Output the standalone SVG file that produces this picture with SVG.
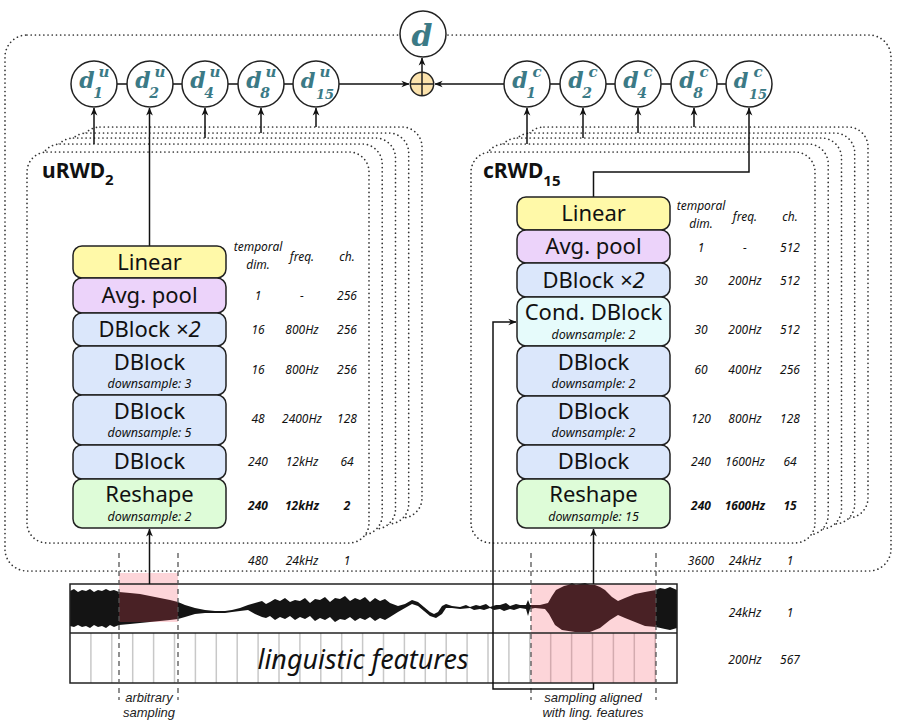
<svg xmlns="http://www.w3.org/2000/svg" width="898" height="728" viewBox="0 0 898 728">
<defs>
<style>
.frame{fill:#fff;stroke:#333;stroke-width:1.7;stroke-dasharray:0.01 4.2;stroke-linecap:round}
.box{stroke:#222;stroke-width:1.5}
.lin{fill:#fff9a8}.avg{fill:#ecd3fa}.db{fill:#dbe7fb}.cdb{fill:#e6fbfb}.rs{fill:#defcd8}
.lbl{font-family:"Noto Sans",sans-serif;font-size:22px;fill:#111;text-anchor:middle}
.sub{font-family:"Noto Sans",sans-serif;font-size:12.5px;font-style:italic;fill:#111;text-anchor:middle}
.tb{font-family:"Noto Sans",sans-serif;font-size:12px;font-style:italic;fill:#111;text-anchor:middle}
.tbb{font-family:"Noto Sans",sans-serif;font-size:12px;font-style:italic;font-weight:bold;fill:#111;text-anchor:middle}
.circ{fill:#fff;stroke:#222;stroke-width:1.5}
.dl{font-family:"DejaVu Serif",serif;font-weight:bold;font-style:italic;fill:#3b7a86;text-anchor:middle}
.conn{fill:none;stroke:#111;stroke-width:1.5}
.dash{fill:none;stroke:#555;stroke-width:1.3;stroke-dasharray:5 4}
.cap{font-family:"Liberation Sans",sans-serif;font-size:13px;font-style:italic;fill:#222;text-anchor:middle}
.ttl{font-family:"Noto Sans",sans-serif;font-weight:bold;fill:#111}
</style>
<marker id="ah" viewBox="0 0 10 10" refX="9.5" refY="5" markerWidth="8" markerHeight="8" orient="auto" markerUnits="userSpaceOnUse"><path d="M0,0.8 L10,5 L0,9.2 L3,5 z" fill="#111"/></marker>
<rect id="lf" x="27" y="152" width="342" height="391" rx="20"/>
<rect id="rf" x="471" y="152" width="344" height="391" rx="20"/>
</defs>
<rect width="898" height="728" fill="#fff"/>

<g id="outer-frame">
<rect x="5" y="35" width="886" height="536" rx="22" class="frame" style="fill:none"/>
</g>

<g id="uRWD-stack">
<use href="#lf" class="frame" transform="translate(53,-25)"/>
<use href="#lf" class="frame" transform="translate(39.7,-19)"/>
<use href="#lf" class="frame" transform="translate(26.5,-14)"/>
<use href="#lf" class="frame" transform="translate(13.2,-8)"/>
<use href="#lf" class="frame"/>
<text class="ttl" x="42" y="178" font-size="21">uRWD<tspan font-size="15" dy="7">2</tspan></text>
</g>
<g id="cRWD-stack">
<use href="#rf" class="frame" transform="translate(53,-25)"/>
<use href="#rf" class="frame" transform="translate(39.7,-19)"/>
<use href="#rf" class="frame" transform="translate(26.5,-14)"/>
<use href="#rf" class="frame" transform="translate(13.2,-8)"/>
<use href="#rf" class="frame"/>
<text class="ttl" x="483" y="178" font-size="21">cRWD<tspan font-size="15" dy="8">15</tspan></text>
</g>

<g id="signal">
<rect x="70" y="584" width="607" height="99" fill="#fff"/>
<path fill="#141414" d="M70,591 L74,589 L78,592 L82,590 L86,591 L90,589 L94,592 L98,590 L102,591 L106,589 L110,591 L114,590 L119,592 L130,593 L140,594 L150,596 L160,598 L170,600 L178,602 L185,605 L195,608 L205,610 L215,611 L225,611 L232,610 L240,608 L248,605 L255,603 L262,601 L266,604 L270,602 L275,599 L280,601 L285,598 L290,602 L295,600 L300,601 L305,598 L310,603 L315,599 L320,600 L325,597 L330,602 L335,598 L340,599 L345,596 L350,601 L355,598 L360,600 L365,597 L370,602 L375,598 L380,601 L385,599 L390,603 L398,606 L405,604 L412,600 L418,602 L424,607 L430,612 L434,614 L438,612 L442,606 L446,604 L452,606 L460,607 L466,605 L470,607 L476,605 L480,606 L486,604 L490,607 L496,605 L500,605 L506,603 L510,606 L516,604 L520,605 L526,605 L528,600 L530,605 L540,605 L548,603 L552,596 L556,590 L560,588 L564,586 L568,585 L572,583 L576,585 L580,584 L585,583 L590,585 L595,585 L600,587 L605,590 L612,597 L618,601 L625,598 L635,594 L645,592 L656,590 L660,588 L665,589 L670,587 L677,590 L677,628 L670,630 L665,629 L656,627 L645,626 L635,622 L625,618 L618,615 L610,620 L600,628 L590,632 L575,632 L562,630 L555,625 L549,614 L545,609 L535,608 L530,609 L528,616 L526,609 L520,608 L514,610 L510,609 L504,611 L500,609 L494,610 L490,608 L484,610 L480,609 L474,610 L470,608 L460,609 L452,608 L446,608 L442,614 L436,618 L430,616 L424,611 L418,606 L412,604 L405,608 L398,612 L390,617 L385,620 L380,618 L375,621 L370,617 L365,620 L360,618 L355,621 L350,617 L345,620 L340,619 L335,622 L330,617 L325,620 L320,618 L315,621 L310,616 L305,619 L300,617 L295,620 L290,616 L285,619 L280,617 L275,620 L270,616 L266,618 L262,617 L255,614 L248,610 L240,611 L232,612 L225,613 L215,613 L205,613 L195,614 L185,617 L178,619 L170,620 L160,621 L150,622 L140,623 L130,624 L119,625 L114,627 L110,625 L106,628 L102,626 L98,627 L94,625 L90,628 L86,626 L82,627 L78,625 L74,627 L70,626 Z"/>
<g stroke="#c8c8c8" stroke-width="1.5">
<path d="M90.9,633V683M111.8,633V683M132.7,633V683M153.6,633V683M174.5,633V683M195.4,633V683M216.3,633V683M237.2,633V683M258.1,633V683M279,633V683M299.9,633V683M320.8,633V683M341.7,633V683M362.6,633V683M383.5,633V683M404.4,633V683M425.3,633V683M446.2,633V683M467.1,633V683M488,633V683M508.9,633V683M529.8,633V683M550.7,633V683M571.6,633V683M592.5,633V683M613.4,633V683M634.3,633V683M655.2,633V683"/>
</g>
<rect x="119" y="573" width="59" height="49" fill="#f74d5e" fill-opacity="0.235"/>
<rect x="531" y="584" width="125" height="99" fill="#f74d5e" fill-opacity="0.235"/>
<rect x="70" y="584" width="607" height="99" fill="none" stroke="#222" stroke-width="1.5"/>
<line x1="70" y1="633" x2="677" y2="633" stroke="#222" stroke-width="1.5"/>
<text x="363" y="669" font-family="Noto Sans, sans-serif" font-style="italic" font-size="27" fill="#111" text-anchor="middle" textLength="211" lengthAdjust="spacingAndGlyphs">linguistic features</text>
<text class="cap" x="149" y="702">arbitrary</text>
<text class="cap" x="149" y="717">sampling</text>
<text class="cap" x="593" y="702">sampling aligned</text>
<text class="cap" x="593" y="717">with ling. features</text>
</g>

<g id="sampling-marks">
<path class="dash" d="M119,553V700M178,553V700M531,553V700M656,553V700"/>
</g>

<g id="connectors">
<path class="conn" d="M94,84H316M527,84H749"/>
<path class="conn" d="M339,84H409" marker-end="url(#ah)"/>
<path class="conn" d="M504,84H435" marker-end="url(#ah)"/>
<path class="conn" d="M422,72V58" marker-end="url(#ah)"/>
<path class="conn" d="M94,144V108" marker-end="url(#ah)"/>
<path class="conn" d="M149.5,246V108" marker-end="url(#ah)"/>
<path class="conn" d="M205,138V108" marker-end="url(#ah)"/>
<path class="conn" d="M261,133V108" marker-end="url(#ah)"/>
<path class="conn" d="M316,127V108" marker-end="url(#ah)"/>
<path class="conn" d="M527,144V108" marker-end="url(#ah)"/>
<path class="conn" d="M583,138V108" marker-end="url(#ah)"/>
<path class="conn" d="M638,133V108" marker-end="url(#ah)"/>
<path class="conn" d="M694,127V108" marker-end="url(#ah)"/>
<path class="conn" d="M593.5,197V172H749V108" marker-end="url(#ah)"/>
<path class="conn" d="M149.5,584V529" marker-end="url(#ah)"/>
<path class="conn" d="M593.5,584V529" marker-end="url(#ah)"/>
<path class="conn" d="M593.5,683V689H493V322H516" marker-end="url(#ah)"/>
</g>

<g id="d"><circle class="circ" cx="423" cy="34" r="23"/><text class="dl" x="422" y="46" font-size="30">d</text></g>
<g id="sum"><circle cx="422" cy="84" r="11.7" fill="#fce3ad" stroke="#222" stroke-width="1.5"/><path d="M410.3,84H433.7M422,72.3V95.7" stroke="#222" stroke-width="1.5"/></g>

<g id="du1"><circle class="circ" cx="94" cy="84" r="23"/><text class="dl" x="87" y="88" font-size="22">d</text><text class="dl" x="104" y="77" font-size="15">u</text><text class="dl" x="98" y="98" font-size="14">1</text></g>
<g id="du2"><circle class="circ" cx="150" cy="84" r="23"/><text class="dl" x="143" y="88" font-size="22">d</text><text class="dl" x="160" y="77" font-size="15">u</text><text class="dl" x="154" y="98" font-size="14">2</text></g>
<g id="du4"><circle class="circ" cx="205" cy="84" r="23"/><text class="dl" x="198" y="88" font-size="22">d</text><text class="dl" x="215" y="77" font-size="15">u</text><text class="dl" x="209" y="98" font-size="14">4</text></g>
<g id="du8"><circle class="circ" cx="261" cy="84" r="23"/><text class="dl" x="254" y="88" font-size="22">d</text><text class="dl" x="271" y="77" font-size="15">u</text><text class="dl" x="265" y="98" font-size="14">8</text></g>
<g id="du15"><circle class="circ" cx="316" cy="84" r="23"/><text class="dl" x="308" y="88" font-size="21">d</text><text class="dl" x="325" y="77" font-size="15">u</text><text class="dl" x="325" y="99" font-size="13">15</text></g>

<g id="dc1"><circle class="circ" cx="527" cy="84" r="23"/><text class="dl" x="520" y="88" font-size="22">d</text><text class="dl" x="537" y="77" font-size="15">c</text><text class="dl" x="531" y="98" font-size="14">1</text></g>
<g id="dc2"><circle class="circ" cx="583" cy="84" r="23"/><text class="dl" x="576" y="88" font-size="22">d</text><text class="dl" x="593" y="77" font-size="15">c</text><text class="dl" x="587" y="98" font-size="14">2</text></g>
<g id="dc4"><circle class="circ" cx="638" cy="84" r="23"/><text class="dl" x="631" y="88" font-size="22">d</text><text class="dl" x="648" y="77" font-size="15">c</text><text class="dl" x="642" y="98" font-size="14">4</text></g>
<g id="dc8"><circle class="circ" cx="694" cy="84" r="23"/><text class="dl" x="687" y="88" font-size="22">d</text><text class="dl" x="704" y="77" font-size="15">c</text><text class="dl" x="698" y="98" font-size="14">8</text></g>
<g id="dc15"><circle class="circ" cx="749" cy="84" r="23"/><text class="dl" x="741" y="88" font-size="21">d</text><text class="dl" x="758" y="77" font-size="15">c</text><text class="dl" x="758" y="99" font-size="13">15</text></g>

<g id="u-linear"><rect class="box lin" x="73" y="246" width="153" height="32" rx="9"/><text class="lbl" x="149.5" y="269.5">Linear</text></g>
<g id="u-avgpool"><rect class="box avg" x="73" y="278" width="153" height="35" rx="9"/><text class="lbl" x="149.5" y="303">Avg. pool</text></g>
<g id="u-dblock2"><rect class="box db" x="73" y="313" width="153" height="33" rx="9"/><text class="lbl" x="149.5" y="337">DBlock <tspan font-style="italic">×2</tspan></text></g>
<g id="u-dblock-ds3"><rect class="box db" x="73" y="346" width="153" height="49" rx="9"/><text class="lbl" x="149.5" y="370">DBlock</text><text class="sub" x="149.5" y="388">downsample: 3</text></g>
<g id="u-dblock-ds5"><rect class="box db" x="73" y="395" width="153" height="50" rx="9"/><text class="lbl" x="149.5" y="419">DBlock</text><text class="sub" x="149.5" y="437">downsample: 5</text></g>
<g id="u-dblock"><rect class="box db" x="73" y="445" width="153" height="34" rx="9"/><text class="lbl" x="149.5" y="469">DBlock</text></g>
<g id="u-reshape"><rect class="box rs" x="73" y="479" width="153" height="49" rx="9"/><text class="lbl" x="149.5" y="502">Reshape</text><text class="sub" x="149.5" y="521">downsample: 2</text></g>

<g id="c-linear"><rect class="box lin" x="517" y="197" width="153" height="33" rx="9"/><text class="lbl" x="593.5" y="221">Linear</text></g>
<g id="c-avgpool"><rect class="box avg" x="517" y="230" width="153" height="33" rx="9"/><text class="lbl" x="593.5" y="254">Avg. pool</text></g>
<g id="c-dblock2"><rect class="box db" x="517" y="263" width="153" height="34" rx="9"/><text class="lbl" x="593.5" y="287.5">DBlock <tspan font-style="italic">×2</tspan></text></g>
<g id="c-conddblock"><rect class="box cdb" x="517" y="297" width="153" height="49" rx="9"/><text class="lbl" x="593.5" y="320">Cond. DBlock</text><text class="sub" x="593.5" y="339">downsample: 2</text></g>
<g id="c-dblock-a"><rect class="box db" x="517" y="346" width="153" height="50" rx="9"/><text class="lbl" x="593.5" y="370">DBlock</text><text class="sub" x="593.5" y="388">downsample: 2</text></g>
<g id="c-dblock-b"><rect class="box db" x="517" y="396" width="153" height="49" rx="9"/><text class="lbl" x="593.5" y="419">DBlock</text><text class="sub" x="593.5" y="437">downsample: 2</text></g>
<g id="c-dblock"><rect class="box db" x="517" y="445" width="153" height="34" rx="9"/><text class="lbl" x="593.5" y="469">DBlock</text></g>
<g id="c-reshape"><rect class="box rs" x="517" y="479" width="153" height="49" rx="9"/><text class="lbl" x="593.5" y="502">Reshape</text><text class="sub" x="593.5" y="521">downsample: 15</text></g>

<g id="u-table">
<text class="tb" x="258" y="251">temporal</text><text class="tb" x="258" y="269">dim.</text><text class="tb" x="302" y="261">freq.</text><text class="tb" x="347" y="261">ch.</text>
<text class="tb" x="258" y="300">1</text><text class="tb" x="302" y="300">-</text><text class="tb" x="347" y="300">256</text>
<text class="tb" x="258" y="334">16</text><text class="tb" x="302" y="334">800Hz</text><text class="tb" x="347" y="334">256</text>
<text class="tb" x="258" y="374">16</text><text class="tb" x="302" y="374">800Hz</text><text class="tb" x="347" y="374">256</text>
<text class="tb" x="258" y="423">48</text><text class="tb" x="302" y="423">2400Hz</text><text class="tb" x="347" y="423">128</text>
<text class="tb" x="258" y="466">240</text><text class="tb" x="302" y="466">12kHz</text><text class="tb" x="347" y="466">64</text>
<text class="tbb" x="258" y="510">240</text><text class="tbb" x="302" y="510">12kHz</text><text class="tbb" x="347" y="510">2</text>
<text class="tb" x="258" y="565">480</text><text class="tb" x="302" y="565">24kHz</text><text class="tb" x="347" y="565">1</text>
</g>
<g id="c-table">
<text class="tb" x="701" y="210">temporal</text><text class="tb" x="701" y="228">dim.</text><text class="tb" x="745" y="221">freq.</text><text class="tb" x="790" y="221">ch.</text>
<text class="tb" x="701" y="252">1</text><text class="tb" x="745" y="252">-</text><text class="tb" x="790" y="252">512</text>
<text class="tb" x="701" y="285">30</text><text class="tb" x="745" y="285">200Hz</text><text class="tb" x="790" y="285">512</text>
<text class="tb" x="701" y="334">30</text><text class="tb" x="745" y="334">200Hz</text><text class="tb" x="790" y="334">512</text>
<text class="tb" x="701" y="374">60</text><text class="tb" x="745" y="374">400Hz</text><text class="tb" x="790" y="374">256</text>
<text class="tb" x="701" y="423">120</text><text class="tb" x="745" y="423">800Hz</text><text class="tb" x="790" y="423">128</text>
<text class="tb" x="701" y="466">240</text><text class="tb" x="745" y="466">1600Hz</text><text class="tb" x="790" y="466">64</text>
<text class="tbb" x="701" y="510">240</text><text class="tbb" x="745" y="510">1600Hz</text><text class="tbb" x="790" y="510">15</text>
<text class="tb" x="701" y="565">3600</text><text class="tb" x="745" y="565">24kHz</text><text class="tb" x="790" y="565">1</text>
<text class="tb" x="745" y="617">24kHz</text><text class="tb" x="790" y="617">1</text>
<text class="tb" x="745" y="664">200Hz</text><text class="tb" x="790" y="664">567</text>
</g>
</svg>
